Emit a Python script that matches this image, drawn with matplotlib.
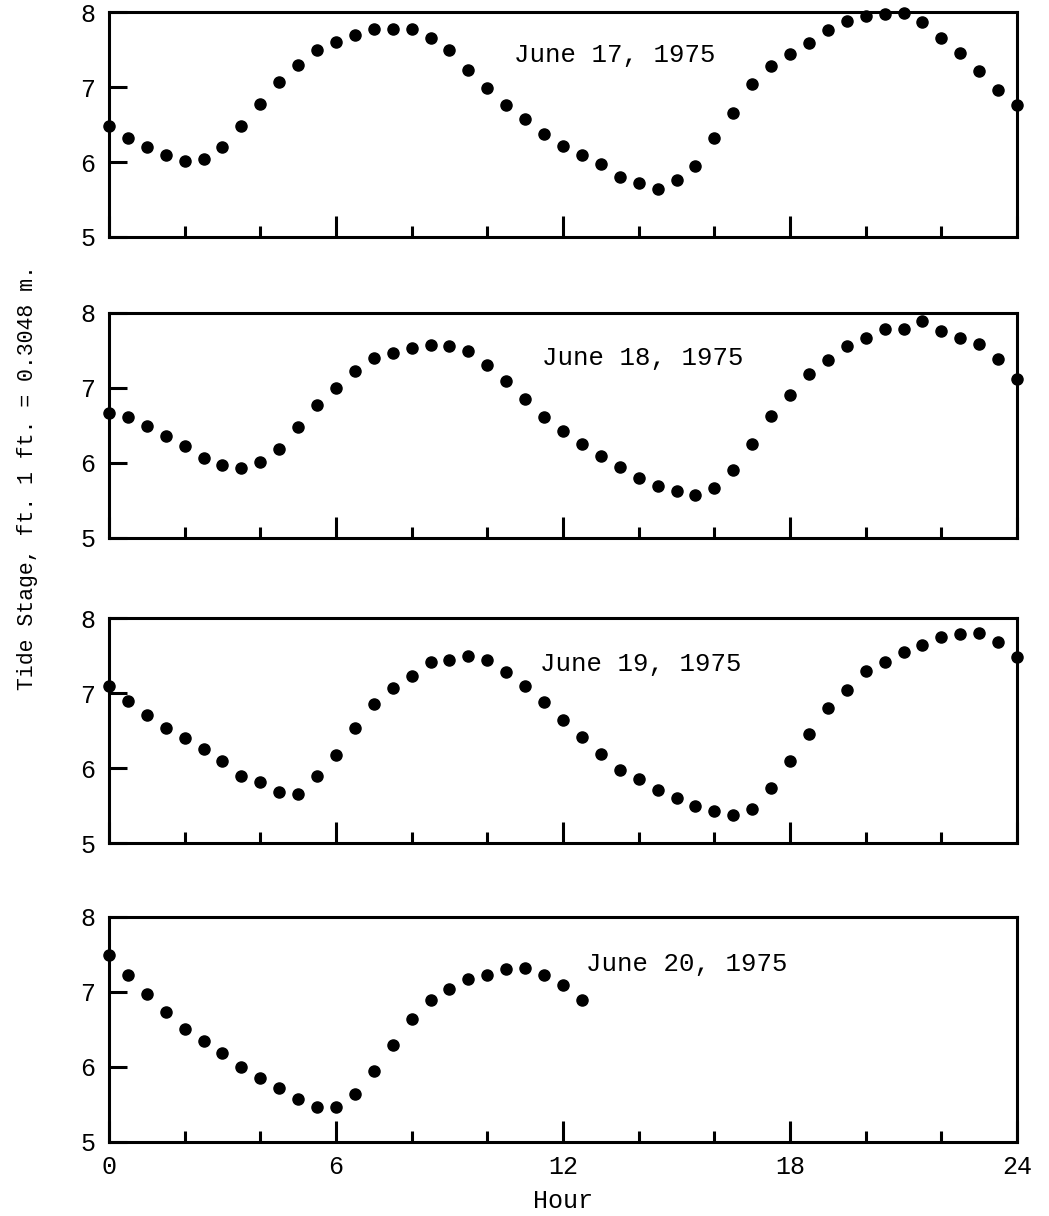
import matplotlib.pyplot as plt
from matplotlib.ticker import FixedLocator

# half-hour readings, ft
hours = [0.0, 0.5, 1.0, 1.5, 2.0, 2.5, 3.0, 3.5, 4.0, 4.5, 5.0, 5.5, 6.0, 6.5,
         7.0, 7.5, 8.0, 8.5, 9.0, 9.5, 10.0, 10.5, 11.0, 11.5, 12.0, 12.5,
         13.0, 13.5, 14.0, 14.5, 15.0, 15.5, 16.0, 16.5, 17.0, 17.5, 18.0,
         18.5, 19.0, 19.5, 20.0, 20.5, 21.0, 21.5, 22.0, 22.5, 23.0, 23.5, 24.0]

june17 = [6.48, 6.32, 6.20, 6.10, 6.02, 6.04, 6.20, 6.48, 6.78, 7.07, 7.30, 7.49,
          7.60, 7.70, 7.78, 7.77, 7.77, 7.66, 7.50, 7.23, 6.99, 6.76, 6.58, 6.38,
          6.21, 6.09, 5.97, 5.80, 5.72, 5.64, 5.76, 5.95, 6.32, 6.65, 7.04, 7.28,
          7.44, 7.59, 7.76, 7.88, 7.95, 7.97, 7.99, 7.87, 7.66, 7.46, 7.21, 6.96,
          6.76]
june18 = [6.67, 6.61, 6.49, 6.36, 6.22, 6.07, 5.97, 5.93, 6.01, 6.19, 6.48, 6.77,
          7.00, 7.22, 7.40, 7.47, 7.53, 7.57, 7.56, 7.49, 7.30, 7.09, 6.85, 6.61,
          6.42, 6.25, 6.09, 5.94, 5.80, 5.69, 5.62, 5.57, 5.67, 5.91, 6.25, 6.62,
          6.91, 7.18, 7.37, 7.56, 7.66, 7.78, 7.79, 7.89, 7.76, 7.67, 7.58, 7.38,
          7.12]
june19 = [7.10, 6.89, 6.71, 6.54, 6.40, 6.25, 6.10, 5.90, 5.81, 5.68, 5.66, 5.89,
          6.18, 6.54, 6.86, 7.07, 7.23, 7.41, 7.44, 7.49, 7.44, 7.28, 7.09, 6.88,
          6.64, 6.41, 6.19, 5.98, 5.85, 5.71, 5.60, 5.50, 5.43, 5.38, 5.46, 5.74,
          6.10, 6.45, 6.80, 7.04, 7.29, 7.41, 7.55, 7.64, 7.75, 7.79, 7.80, 7.68,
          7.48]
june20 = [7.49, 7.22, 6.97, 6.73, 6.51, 6.34, 6.19, 6.00, 5.85, 5.72, 5.57, 5.47,
          5.47, 5.64, 5.95, 6.29, 6.64, 6.89, 7.04, 7.17, 7.22, 7.30, 7.32, 7.23,
          7.09, 6.89]

series = [june17, june18, june19, june20]
dates = ['June 17, 1975', 'June 18, 1975', 'June 19, 1975', 'June 20, 1975']
label_pos = [(10.7, 7.43), (11.45, 7.40), (11.4, 7.39), (12.6, 7.37)]

plt.rcParams['font.family'] = ['Liberation Mono', 'DejaVu Sans Mono']

fig = plt.figure(figsize=(10.49, 12.16), dpi=100)
bottoms = [0.8051, 0.5576, 0.3067, 0.0609]

for i in range(4):
    ax = fig.add_axes([0.1039, bottoms[i], 0.8656, 0.185])
    y = series[i]
    ax.plot(hours[:len(y)], y, 'o', color='black', ms=8, clip_on=False, zorder=5)
    ax.set_xlim(0, 24)
    ax.set_ylim(5, 8)
    ax.text(label_pos[i][0], label_pos[i][1], dates[i], fontsize=18.5, va='center')
    for s in ax.spines.values():
        s.set_linewidth(2.2)
    ax.xaxis.set_major_locator(FixedLocator([0, 6, 12, 18, 24]))
    ax.xaxis.set_minor_locator(FixedLocator([2, 4, 8, 10, 14, 16, 20, 22]))
    ax.set_yticks([5, 6, 7, 8])
    ax.tick_params(axis='x', which='major', direction='in', length=15, width=2.2,
                   labelsize=18, pad=9.5)
    ax.tick_params(axis='x', which='minor', direction='in', length=8, width=2.2)
    ax.tick_params(axis='y', direction='in', length=13, width=2.2, labelsize=18, pad=10)
    if i < 3:
        ax.tick_params(axis='x', labelbottom=False)
    else:
        ax.set_xlabel('Hour', fontsize=18, labelpad=7)

fig.text(0.026, 0.607, 'Tide Stage, ft. 1 ft. = 0.3048 m.', rotation=90,
         fontsize=15.5, ha='center', va='center')

plt.savefig('out.png', dpi=100)
